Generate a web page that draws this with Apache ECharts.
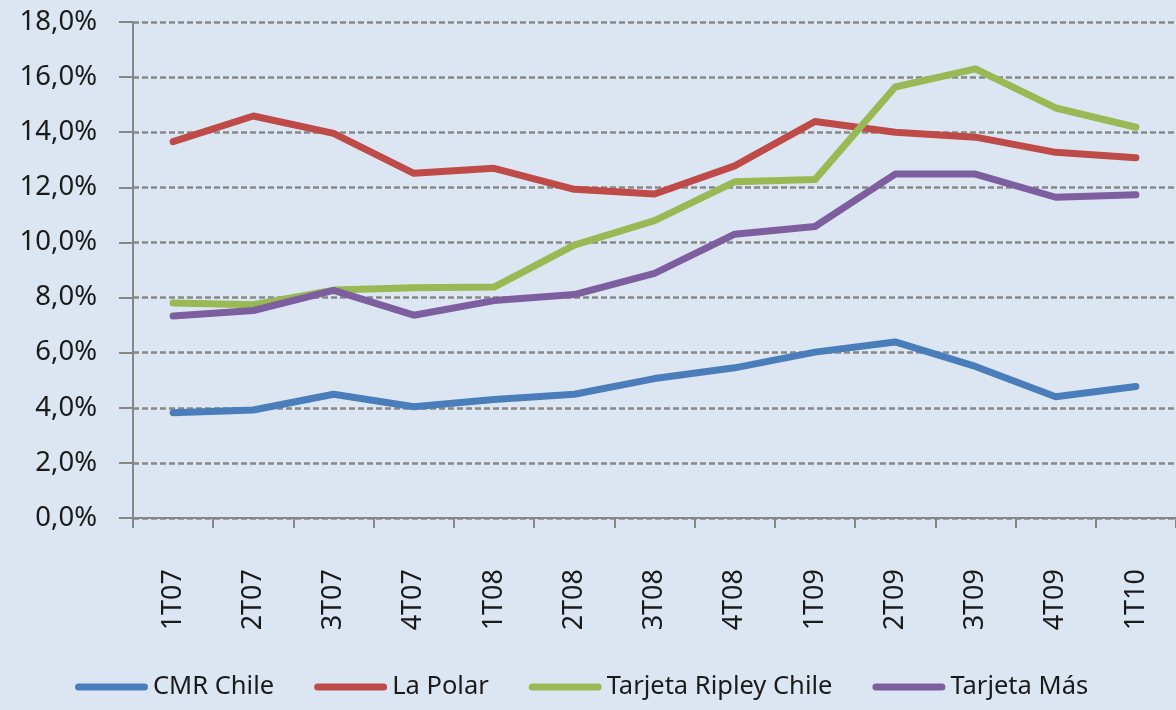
<!DOCTYPE html>
<html>
<head>
<meta charset="utf-8">
<script src="https://cdn.jsdelivr.net/npm/echarts@6/dist/echarts.min.js"></script>
<style>
  html, body { margin: 0; padding: 0; background: #dce6f2; }
  #chart { width: 1176px; height: 710px; }
</style>
</head>
<body>
<div id="chart"></div>
<script>
const categories = ['1T07','2T07','3T07','4T07','1T08','2T08','3T08','4T08','1T09','2T09','3T09','4T09','1T10'];
const cmrChile = [3.82, 3.92, 4.49, 4.04, 4.30, 4.49, 5.06, 5.45, 6.02, 6.39, 5.50, 4.40, 4.77];
const laPolar = [13.66, 14.59, 13.96, 12.51, 12.69, 11.93, 11.76, 12.78, 14.39, 14.00, 13.82, 13.27, 13.07];
const ripley = [7.80, 7.74, 8.27, 8.36, 8.38, 9.90, 10.79, 12.20, 12.28, 15.64, 16.30, 14.88, 14.18];
const tarjetaMas = [7.33, 7.53, 8.26, 7.36, 7.89, 8.11, 8.88, 10.30, 10.58, 12.48, 12.48, 11.64, 11.73];
const seriesNames = ['CMR Chile', 'La Polar', 'Tarjeta Ripley Chile', 'Tarjeta Más'];
const seriesColors = ['#4a7ebb', '#be4b48', '#98b954', '#7d5fa0'];

const chart = echarts.init(document.getElementById('chart'), null, { renderer: 'canvas' });
const FONT = '"Noto Sans", "Open Sans", sans-serif';
const dataSets = [cmrChile, laPolar, ripley, tarjetaMas];

chart.setOption({
  backgroundColor: '#dce6f2',
  animation: false,
  color: seriesColors,
  grid: { left: 133, right: -10, top: 22, bottom: 192, containLabel: false },
  legend: {
    left: 75, top: 674, padding: 0,
    itemGap: 40, itemWidth: 73, itemHeight: 7,
    icon: 'path://M3.5,0 H69.5 A3.5,3.5 0 0 1 69.5,7 H3.5 A3.5,3.5 0 0 1 3.5,0 Z',
    textStyle: { fontFamily: FONT, fontSize: 25.5, color: '#1a1a1a' },
    data: seriesNames
  },
  xAxis: {
    type: 'category',
    data: categories,
    boundaryGap: true,
    axisLine: { show: true, lineStyle: { color: '#868686', width: 2 } },
    axisTick: { show: true, length: 10, alignWithLabel: false, lineStyle: { color: '#868686', width: 2 } },
    axisLabel: { rotate: 90, margin: 51, fontFamily: FONT, fontSize: 27, color: '#1a1a1a', interval: 0 },
    splitLine: { show: false }
  },
  yAxis: {
    type: 'value',
    min: 0, max: 18, interval: 2,
    axisLine: { show: true, lineStyle: { color: '#868686', width: 2 } },
    axisTick: { show: true, length: 14, lineStyle: { color: '#868686', width: 2 } },
    axisLabel: {
      margin: 36, fontFamily: FONT, fontSize: 27.5, color: '#1a1a1a',
      formatter: v => v.toFixed(1).replace('.', ',') + '%'
    },
    splitLine: { show: true, lineStyle: { color: '#888888', width: 2.5, type: [6, 3] } }
  },
  series: dataSets.map((d, i) => ({
    name: seriesNames[i],
    type: 'line',
    data: d,
    showSymbol: false,
    symbol: 'none',
    lineStyle: { width: 7, color: seriesColors[i], cap: 'round', join: 'round' },
    itemStyle: { color: seriesColors[i] }
  }))
});
</script>
</body>
</html>
